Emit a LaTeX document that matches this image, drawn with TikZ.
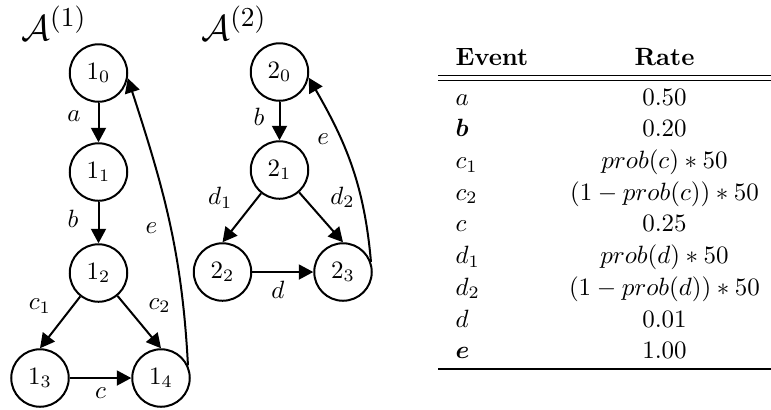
\documentclass[tikz,border=0pt]{standalone}
\usepackage{amsmath}
\usetikzlibrary{arrows.meta}
\begin{document}
\begin{tikzpicture}[x=0.4pt, y=-0.4pt,
  state/.style={circle, draw, thick, minimum size=23pt, inner sep=0pt},
  arr/.style={thick, -{Triangle[length=5.8pt,width=6pt]}},
  lbl/.style={inner sep=3.33pt},
  autname/.style={inner sep=0pt, anchor=base west, font=\fontsize{15.5}{18}\selectfont},
  cell/.style={inner sep=0pt, anchor=base west},
  val/.style={inner sep=0pt, anchor=base}]
\useasboundingbox (0,0) rectangle (771,409);
% automaton 1
\node[autname] (aut1) at (21,40) {$\mathcal{A}^{(1)}$};
\node[state] (s10) at (98.5,73){$1_0$};
\node[state] (s11) at (98.5,172){$1_1$};
\node[state] (s12) at (98.5,273){$1_2$};
\node[state] (s13) at (40,378){$1_3$};
\node[state] (s14) at (161,378){$1_4$};
\draw[arr](s10) -- node[lbl, left=3.4pt, pos=0.35]{$a$} (s11);
\draw[arr](s11) -- node[lbl, left=4.3pt, pos=0.4]{$b$} (s12);
\draw[arr](s12) -- node[lbl, above left]{$c_1$} (s13.north);
\draw[arr](s12) -- node[lbl, above right]{$c_2$} (s14.north);
\draw[arr](s13) -- node[lbl, below]{$c$} (s14);
\draw[arr](s14.25) to[out=93, in=-72] node[lbl, left=1.6pt, pos=0.47]{$e$} (s10.-10);
% automaton 2
\node[autname] (aut2) at (201,40) {$\mathcal{A}^{(2)}$};
\node[state] (s20) at (279.5,72){$2_0$};
\node[state] (s21) at (279.5,170){$2_1$};
\node[state] (s22) at (222.5,272){$2_2$};
\node[state] (s23) at (343,272){$2_3$};
\draw[arr](s20) -- node[lbl, left=2.3pt, pos=0.4]{$b$} (s21);
\draw[arr](s21) -- node[lbl, above left]{$d_1$} (s22.north);
\draw[arr](s21) -- node[lbl, above right]{$d_2$} (s23.north);
\draw[arr](s22) -- node[lbl, below, pos=0.42]{$d$} (s23);
\draw[arr](s23.20) to[out=95, in=-60] node[lbl, left=1pt, pos=0.66]{$e$} (s20.-11);
% rate table
\node[cell, font=\bfseries] (hevent) at (455,65){Event};
\node[val, font=\bfseries] (hrate) at (664.5,65){Rate};
\draw[line width=0.6pt] (438,75.5) -- (771,75.5);
\draw[line width=0.4pt] (438,80.7) -- (771,80.7);
\node[cell] (ea) at (455,105){$a$};
\node[val] (ra) at (664.5,105){$0.50$};
\node[cell] (eb) at (455,136.7){$\boldsymbol{b}$};
\node[val] (rb) at (664.5,136.7){$0.20$};
\node[cell] (ec1) at (455,168.4){$c_1$};
\node[val] (rc1) at (664.5,168.4){$prob(c)*50$};
\node[cell] (ec2) at (455,200){$c_2$};
\node[val] (rc2) at (664.5,200){$(1-prob(c))*50$};
\node[cell] (ec) at (455,231.8){$c$};
\node[val] (rc) at (664.5,231.8){$0.25$};
\node[cell] (ed1) at (455,263.5){$d_1$};
\node[val] (rd1) at (664.5,263.5){$prob(d)*50$};
\node[cell] (ed2) at (455,295){$d_2$};
\node[val] (rd2) at (664.5,295){$(1-prob(d))*50$};
\node[cell] (ed) at (455,327){$d$};
\node[val] (rd) at (664.5,327){$0.01$};
\node[cell] (ee) at (455,358.6){$\boldsymbol{e}$};
\node[val] (re) at (664.5,358.6){$1.00$};
\draw[line width=0.6pt] (438,369) -- (771,369);
\end{tikzpicture}
\end{document}
